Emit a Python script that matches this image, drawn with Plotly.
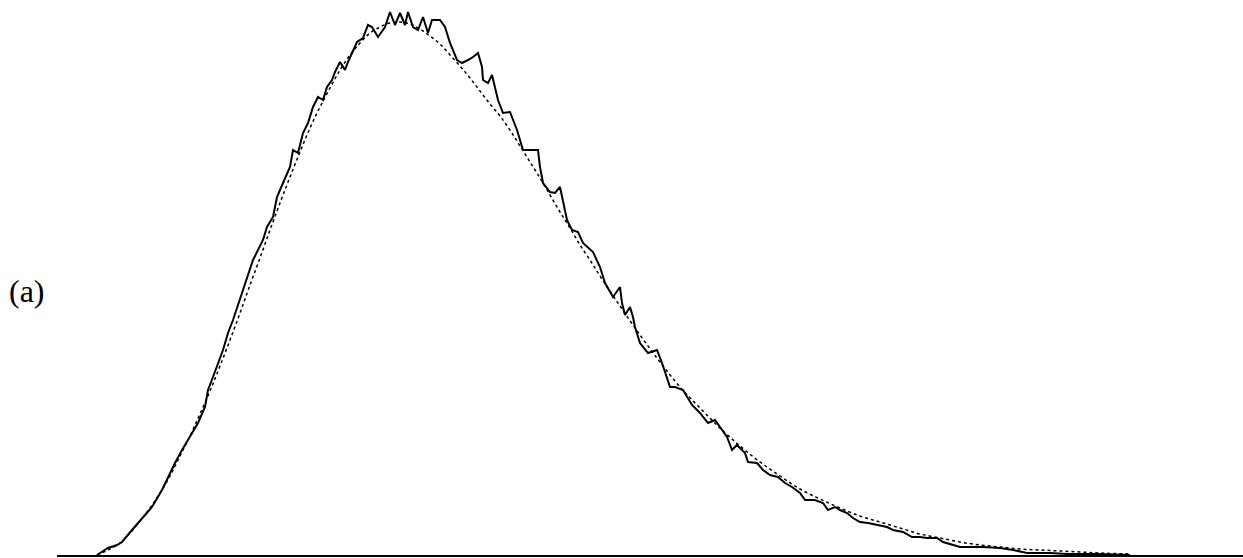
import plotly.graph_objects as go

# Readings: x position, height above the baseline (pixel-like units)
hist_x = [97,108,117,122,132,138,145,152,162,168,175,182,190,198,205,208,213,218,223,228,
          233,242,248,253,263,267,273,277,283,290,293,298,303,308,313,318,323,327,332,335,
          340,345,348,352,357,363,368,372,378,385,390,395,400,405,408,413,418,423,428,432,
          440,445,450,457,462,468,473,478,482,483,488,492,495,498,503,510,517,523,530,538,
          540,543,550,555,560,563,567,572,578,583,593,600,605,613,620,622,625,630,633,635,
          640,648,657,662,667,670,675,683,692,700,708,715,720,727,732,737,745,748,757,763,
          770,778,785,792,800,805,815,823,828,835,840,847,853,860,868,877,887,893,903,912,
          920,927,937,943,960,983,1000,1013,1027,1050,1067,1097,1130]
hist_px = [555,548,545,542,530,523,515,507,490,477,463,450,437,423,407,390,377,363,350,333,
           320,293,275,260,240,227,217,197,183,167,150,153,133,123,107,97,100,87,80,72,
           62,70,62,53,42,38,25,27,37,27,12,25,13,25,12,27,30,17,33,20,
           20,27,43,60,63,60,57,53,67,80,83,75,87,100,113,112,130,150,150,150,
           167,183,192,193,187,200,220,230,232,243,252,267,283,297,287,303,315,307,317,327,
           343,353,350,363,377,387,387,390,405,413,423,420,427,437,450,445,453,462,463,470,
           475,477,483,487,493,500,500,503,510,507,510,513,518,522,523,525,527,530,532,537,
           537,538,538,542,547,547,548,550,553,553,554,554,555]
hist_y = [555 - v for v in hist_px]

fit_x = [97,110,120,130,140,150,160,170,180,190,200,210,220,230,240,250,260,270,280,290,
         300,310,320,330,340,350,360,370,380,390,400,410,420,430,440,450,460,470,480,490,
         500,510,520,530,540,550,560,570,580,590,600,620,640,660,680,700,720,740,760,780,
         800,820,840,860,880,900,920,940,960,980,1000,1020,1040,1060,1080,1100,1130]
fit_px = [555,549,543,533,521,508,493,476,456,436,414,391,366,340,313,285,258,230,203,177,
          152,128,107,88,70,55,43,33,27,23,22,24,29,36,44,55,66,78,91,104,
          116,130,146,162,178,195,212,228,245,260,276,306,335,362,387,408,428,446,462,476,
          489,499,508,516,522,528,534,538,542,545,547,549,550,551,552,553,554]
fit_y = [555 - v for v in fit_px]

label_text = "(a)"

fig = go.Figure()
fig.add_trace(go.Scatter(x=fit_x, y=fit_y, mode="lines",
                         line=dict(color="black", width=1.5, dash="dot", shape="spline"),
                         showlegend=False, hoverinfo="skip"))
fig.add_trace(go.Scatter(x=hist_x, y=hist_y, mode="lines",
                         line=dict(color="black", width=2),
                         showlegend=False, hoverinfo="skip"))

fig.update_layout(
    width=1243, height=558,
    margin=dict(l=57, r=0, t=0, b=3),
    paper_bgcolor="white", plot_bgcolor="white",
    xaxis=dict(range=[57, 1243], showgrid=False, zeroline=False, showticklabels=False,
               ticks="", showline=True, linecolor="black", linewidth=2, fixedrange=True),
    yaxis=dict(range=[0, 555], showgrid=False, zeroline=False, showticklabels=False,
               ticks="", showline=False, fixedrange=True),
    annotations=[dict(text=label_text, xref="paper", yref="paper", x=-0.042, y=(555 - 291) / 555,
                      xanchor="left", yanchor="middle", showarrow=False,
                      font=dict(family="Liberation Serif, Times New Roman, serif", size=32, color="black"))],
)

fig.write_html("out.html", config={"displayModeBar": False},
               post_script="document.body.style.margin='0';document.body.style.overflow='hidden';")
